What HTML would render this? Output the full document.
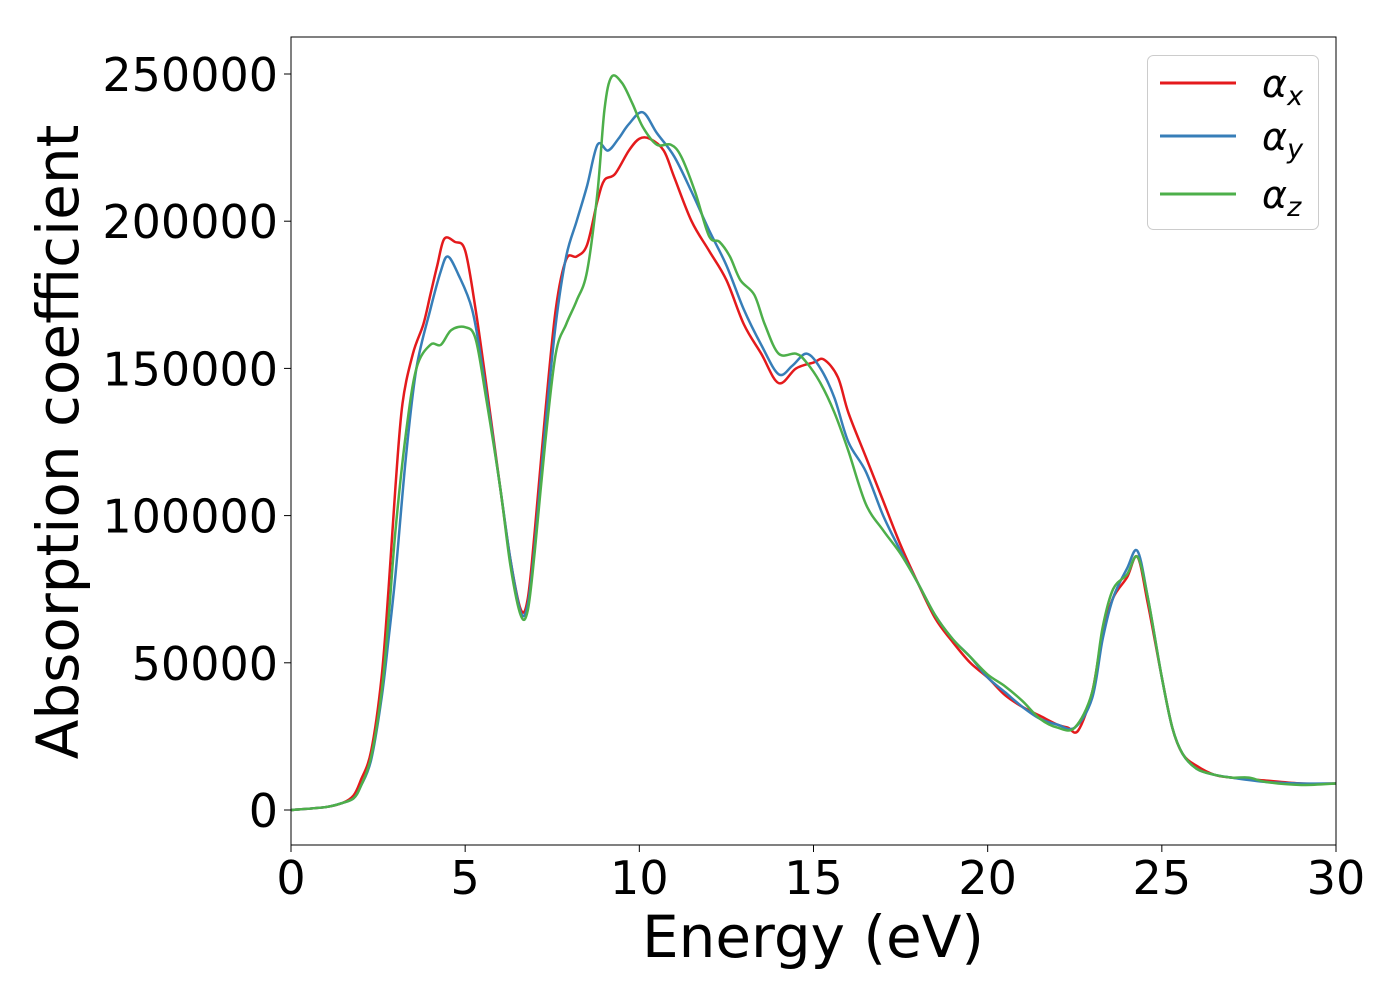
<!DOCTYPE html>
<html><head><meta charset="utf-8"><style>
body{margin:0;background:#fff;}
svg text{font-family:"DejaVu Sans","Liberation Sans",sans-serif;fill:#000;}
</style></head><body>
<svg id="chart" width="1400" height="1000" xmlns="http://www.w3.org/2000/svg">
<g id="series"></g>
<rect x="291" y="37" width="1045" height="808" fill="none" stroke="#000" stroke-width="1"/>
<g id="axes"></g>
<text x="813" y="957" font-size="58" text-anchor="middle">Energy (eV)</text>
<text transform="translate(78,442) rotate(-90)" font-size="58" text-anchor="middle">Absorption coefficient</text>
<g>
<rect x="1147.5" y="55.5" width="171" height="174" rx="6" fill="#fff" stroke="#ccc"/>
<line x1="1160" y1="83" x2="1236" y2="83" stroke="#e41a1c" stroke-width="3"/>
<text x="1262" y="97" font-size="38" font-style="italic">α<tspan font-size="27" dy="8">x</tspan></text>
<line x1="1160" y1="136" x2="1236" y2="136" stroke="#377eb8" stroke-width="3"/>
<text x="1262" y="150" font-size="38" font-style="italic">α<tspan font-size="27" dy="8">y</tspan></text>
<line x1="1160" y1="194" x2="1236" y2="194" stroke="#4daf4a" stroke-width="3"/>
<text x="1262" y="208" font-size="38" font-style="italic">α<tspan font-size="27" dy="8">z</tspan></text>
</g>
</svg>
<script>
const xTicks=[0,5,10,15,20,25,30];
const yTicks=[0,50000,100000,150000,200000,250000];
const xE=[0,1,1.5,1.8,2,2.3,2.6,2.8,3,3.2,3.5,3.8,4,4.2,4.4,4.7,5,5.3,5.6,6,6.3,6.6,6.8,7,7.3,7.6,7.9,8.2,8.5,8.8,9,9.3,9.7,10,10.3,10.7,11,11.5,12,12.5,13,13.5,14,14.5,15,15.3,15.7,16,16.5,17,17.5,18,18.5,19,19.5,20,20.5,21,21.5,22,22.3,22.6,23,23.3,23.6,24,24.3,24.6,25,25.3,25.6,26,26.5,27,28,29,30];
const xV=[0,1,2.5,5,10,20,45,75,110,138,155,165,175,185,194,193,190,170,145,110,85,68,72,95,135,170,187,188,192,207,214,216,224,228,228,224,215,200,190,180,165,155,145,150,152,153,147,135,120,105,90,77,65,57,50,45,39,35,32,29,28,27,40,60,72,79,86,70,45,28,19,15,12,11,10,9,9];
const yE=[0,1,1.5,1.8,2,2.3,2.6,2.8,3,3.3,3.6,4,4.3,4.5,4.8,5.2,5.5,6,6.3,6.6,6.8,7,7.3,7.6,7.9,8.2,8.5,8.8,9.1,9.4,9.7,10.1,10.5,11,11.5,12,12.5,13,13.5,14,14.4,14.8,15.2,15.6,16,16.5,17,17.5,18,18.5,19,19.5,20,20.5,21,21.5,22,22.5,23,23.3,23.6,24,24.3,24.6,25,25.3,25.6,26,26.5,27,28,29,30];
const yV=[0,1,2.5,4,8,17,38,58,80,120,150,170,183,188,182,170,150,110,85,67,70,90,130,165,188,200,212,226,224,228,233,237,230,222,210,197,185,170,158,148,151,155,150,140,125,115,100,88,77,66,58,52,45,40,35,31,29,28,38,58,72,82,88,72,45,28,19,14,12,11,9.5,9,9];
const zE=[0,1,1.5,1.8,2,2.3,2.6,2.8,3,3.3,3.6,4,4.3,4.6,5,5.3,5.6,6,6.3,6.6,6.8,7,7.3,7.6,7.9,8.2,8.5,8.8,9,9.2,9.5,9.8,10.1,10.5,10.9,11.2,11.6,12,12.3,12.6,12.9,13.3,13.6,14,14.5,14.8,15.2,15.6,16,16.5,17,17.5,18,18.5,19,19.5,20,20.5,21,21.5,22,22.5,23,23.3,23.6,24,24.3,24.6,25,25.3,25.6,26,26.5,27,27.5,28,29,30];
const zV=[0,1,2.5,4,8,18,40,65,95,128,150,158,158,163,164,160,140,110,83,66,68,88,125,155,165,173,183,210,238,249,247,240,232,226,226,222,210,195,193,188,180,175,165,155,155,152,145,135,122,104,95,87,77,66,58,52,46,42,37,31,28,28,40,62,75,80,86,72,45,28,19,14,12,11,11,9.5,8.5,9];
const NS="http://www.w3.org/2000/svg";
const sx=v=>291+v/30*1045;
const sy=v=>810-v/50000*147.2;
const axes=document.getElementById('axes');
for(const t of xTicks){
 const l=document.createElementNS(NS,'line');
 
 
 l.setAttribute('x1',sx(t));l.setAttribute('x2',sx(t));l.setAttribute('y1',845);l.setAttribute('y2',852);l.setAttribute('stroke','#000');
 axes.appendChild(l);
 const tx=document.createElementNS(NS,'text');
 
 
 tx.setAttribute('x',sx(t));tx.setAttribute('y',894);tx.setAttribute('font-size','46');tx.setAttribute('text-anchor','middle');
 tx.textContent=t;axes.appendChild(tx);
}
for(const t of yTicks){
 const l=document.createElementNS(NS,'line');
 
 
 l.setAttribute('x1',284);l.setAttribute('x2',291);l.setAttribute('y1',sy(t));l.setAttribute('y2',sy(t));l.setAttribute('stroke','#000');
 axes.appendChild(l);
 const tx=document.createElementNS(NS,'text');
 
 
 tx.setAttribute('x',278);tx.setAttribute('y',sy(t)+17);tx.setAttribute('font-size','46');tx.setAttribute('text-anchor','end');
 tx.textContent=t;axes.appendChild(tx);
}
function pathFor(E,V){
 const p=E.map((e,i)=>[sx(e),sy(V[i]*1000)]);
 let d='M'+p[0][0]+','+p[0][1];
 for(let i=0;i<p.length-1;i++){
  const p0=p[Math.max(0,i-1)],p1=p[i],p2=p[i+1],p3=p[Math.min(p.length-1,i+2)];
  const c1=[p1[0]+(p2[0]-p0[0])/6,p1[1]+(p2[1]-p0[1])/6];
  const c2=[p2[0]-(p3[0]-p1[0])/6,p2[1]-(p3[1]-p1[1])/6];
  d+=' C'+c1[0]+','+c1[1]+' '+c2[0]+','+c2[1]+' '+p2[0]+','+p2[1];
 }
 return d;
}
const g=document.getElementById('series');
[[xE,xV,'#e41a1c','series-alpha-x'],[yE,yV,'#377eb8','series-alpha-y'],[zE,zV,'#4daf4a','series-alpha-z']].forEach(s=>{
 const pa=document.createElementNS(NS,'path');
 
 
 pa.setAttribute('d',pathFor(s[0],s[1]));pa.setAttribute('fill','none');pa.setAttribute('stroke',s[2]);pa.setAttribute('stroke-width','2.5');
 g.appendChild(pa);
});
</script>
</body></html>
